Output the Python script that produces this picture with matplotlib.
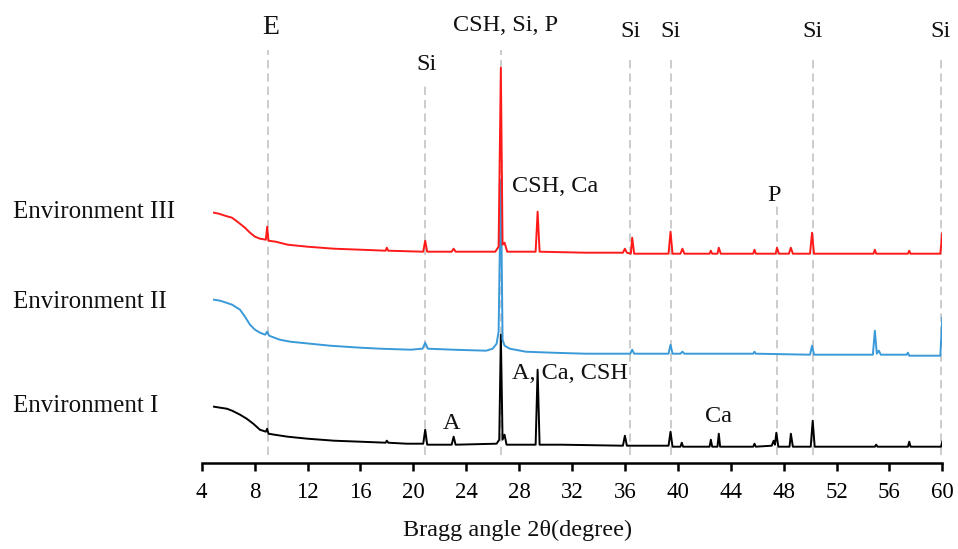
import matplotlib.pyplot as plt

# XRD patterns (2theta in degrees, intensity in arbitrary units)
tt_I = [4.93, 5.4, 5.9, 6.3, 6.9, 7.4, 7.9, 8.4, 8.85, 8.95, 9.05, 9.5, 10.5, 12, 14, 16,
        17.9, 18.0, 18.1, 19.5, 20.75, 20.9, 21.05, 22.9, 23.05, 23.2, 26.3, 26.5, 26.62,
        26.75, 26.9, 27.05, 29.25, 29.4, 29.55, 31.2, 35.85, 36.0, 36.15, 39.3, 39.45, 39.6,
        40.2, 40.3, 40.4, 42.4, 42.5, 42.6, 43.0, 43.1, 43.2, 45.7, 45.8, 45.9, 47.1, 47.25,
        47.35, 47.45, 47.6, 48.45, 48.55, 48.7, 50.05, 50.2, 50.35, 54.9, 55.0, 55.1, 57.4,
        57.5, 57.6, 59.9, 60.0]
int_I = [56, 55, 54, 52, 48, 44, 39, 33, 31, 34, 29, 28, 26, 24, 22, 21,
         20, 22, 20, 19, 19, 33, 18, 18, 26, 18, 19, 23, 128,
         23, 28, 18, 18, 93, 18, 18, 17, 27, 17, 17, 31, 16,
         16, 20, 16, 16, 23, 16, 16, 29, 16, 16, 19, 16, 17, 22,
         18, 30, 16, 16, 29, 16, 16, 42, 16, 16, 18, 16, 16,
         21, 16, 16, 21]

tt_II = [4.93, 5.4, 6.3, 6.9, 7.27, 7.65, 8.03, 8.41, 8.8, 8.95, 9.1, 9.9, 10.7, 12.2, 13.7,
         16.0, 17.5, 19.8, 20.7, 20.9, 21.1, 23.0, 25.5, 26.0, 26.3, 26.45, 26.62, 26.75,
         26.9, 27.3, 28.5, 30.5, 33, 36.4, 36.55, 36.7, 39.3, 39.45, 39.6, 40.2, 40.35, 40.5,
         45.7, 45.8, 45.9, 50.0, 50.15, 50.3, 54.75, 54.9, 55.05, 55.2, 55.35, 57.3, 57.4,
         57.5, 59.85, 60.0]
int_II = [63, 62, 58, 53, 46, 38, 33, 30, 28, 31, 27, 23, 21, 19, 17,
          15, 14, 13, 14, 20, 14, 13, 12, 14, 19, 31, 183, 23,
          17, 14, 11, 10, 9, 9, 13, 9, 9, 18, 9, 9, 11, 9,
          9, 11, 9, 8, 17, 8, 8, 32, 9, 12, 8, 8, 10,
          7, 7, 45]

tt_III = [4.93, 5.3, 5.76, 6.29, 6.7, 7.27, 7.65, 8.03, 8.41, 8.85, 8.95, 9.05, 9.6, 10.5,
          12, 14, 16, 17.9, 18.0, 18.1, 20.75, 20.9, 21.05, 22.9, 23.05, 23.2, 26.2, 26.45,
          26.62, 26.75, 26.9, 27.1, 29.25, 29.4, 29.55, 33, 35.85, 36.0, 36.15, 36.45, 36.55,
          36.7, 39.3, 39.45, 39.6, 40.2, 40.35, 40.5, 42.4, 42.5, 42.6, 43.0, 43.1, 43.25,
          45.7, 45.8, 45.9, 47.4, 47.5, 47.65, 48.4, 48.55, 48.7, 50.0, 50.15, 50.3, 54.8,
          54.9, 55.0, 57.4, 57.5, 57.6, 59.85, 60.0]
int_III = [50, 49, 47, 45, 41, 35, 30, 26, 24, 23, 36, 22, 21, 18,
           16, 14, 13, 12, 15, 12, 11, 22, 11, 11, 14, 11, 11, 16,
           195, 18, 20, 11, 11, 51, 11, 10, 10, 14, 10, 9, 25,
           9, 9, 31, 9, 9, 14, 9, 9, 12, 9, 9, 15, 9,
           9, 13, 9, 9, 15, 9, 9, 15, 9, 9, 30, 9, 9,
           13, 9, 9, 12, 9, 9, 30]

# phase reference lines and their labels
ref_pos = [9.0, 20.9, 26.6, 36.4, 39.5, 47.5, 50.2, 59.9]
ref_top = [413, 380, 413, 408, 408, 257, 408, 408]

labels = ['E', 'Si', 'CSH, Si, P', 'Si', 'Si', 'Si', 'Si', 'P', 'CSH, Ca', 'A, Ca, CSH', 'A', 'Ca']
label_x = [9.2, 20.98, 26.96, 36.39, 39.45, 50.2, 59.85, 47.27, 27.44, 27.44, 22.87, 43.06]
label_y = [428.4, 392.7, 432, 426, 426, 426, 426, 262, 271, 83.7, 33.7, 41]

series = ['Environment I', 'Environment II', 'Environment III']
offsets = [0, 100, 200]
colors = ['#000000', '#3A9AD9', '#FF1A1A']

plt.rcParams['font.family'] = ['Liberation Serif', 'DejaVu Serif']

fig = plt.figure(figsize=(9.58, 5.49), dpi=100)
ax = fig.add_axes([201.7/958, 86.3/549, 740.6/958, 462.7/549])

for x, top in zip(ref_pos, ref_top):
    ax.vlines(x, 8, top, colors='#C4C4C4', linewidth=1.2, linestyles=(0, (5, 3)), zorder=1)

data = [(tt_I, int_I), (tt_II, int_II), (tt_III, int_III)]
for (tt, it), off, c in zip(data, offsets, colors):
    ax.plot(tt, [v + off for v in it], color=c, lw=1.4, zorder=2)

for s, x, y in zip(labels, label_x, label_y):
    ax.text(x, y, s, fontsize=20 if s == 'E' else 17.5,
            ha='left' if s.startswith(('CSH, Ca', 'A, Ca')) else 'center',
            va='baseline', color='#111111')

for s, py in zip(series, [412, 308, 218]):
    fig.text(12.7/958, 1 - py/549, s, fontsize=18, va='baseline', color='#111111')

fig.text(518/958, 1 - 536/549, 'Bragg angle 2\u03b8(degree)', fontsize=17.5,
         ha='center', va='baseline', color='#111111')

ax.set_xlim(4, 60)
ax.set_ylim(0, 462.7)
ax.set_xticks(range(4, 61, 4))
ax.set_yticks([])
for sp in ['left', 'top', 'right']:
    ax.spines[sp].set_visible(False)
ax.spines['bottom'].set_linewidth(1.8)
ax.tick_params(axis='x', direction='out', length=6, width=1.8, pad=8, labelsize=16.5)

fig.savefig('out.png', dpi=100)
